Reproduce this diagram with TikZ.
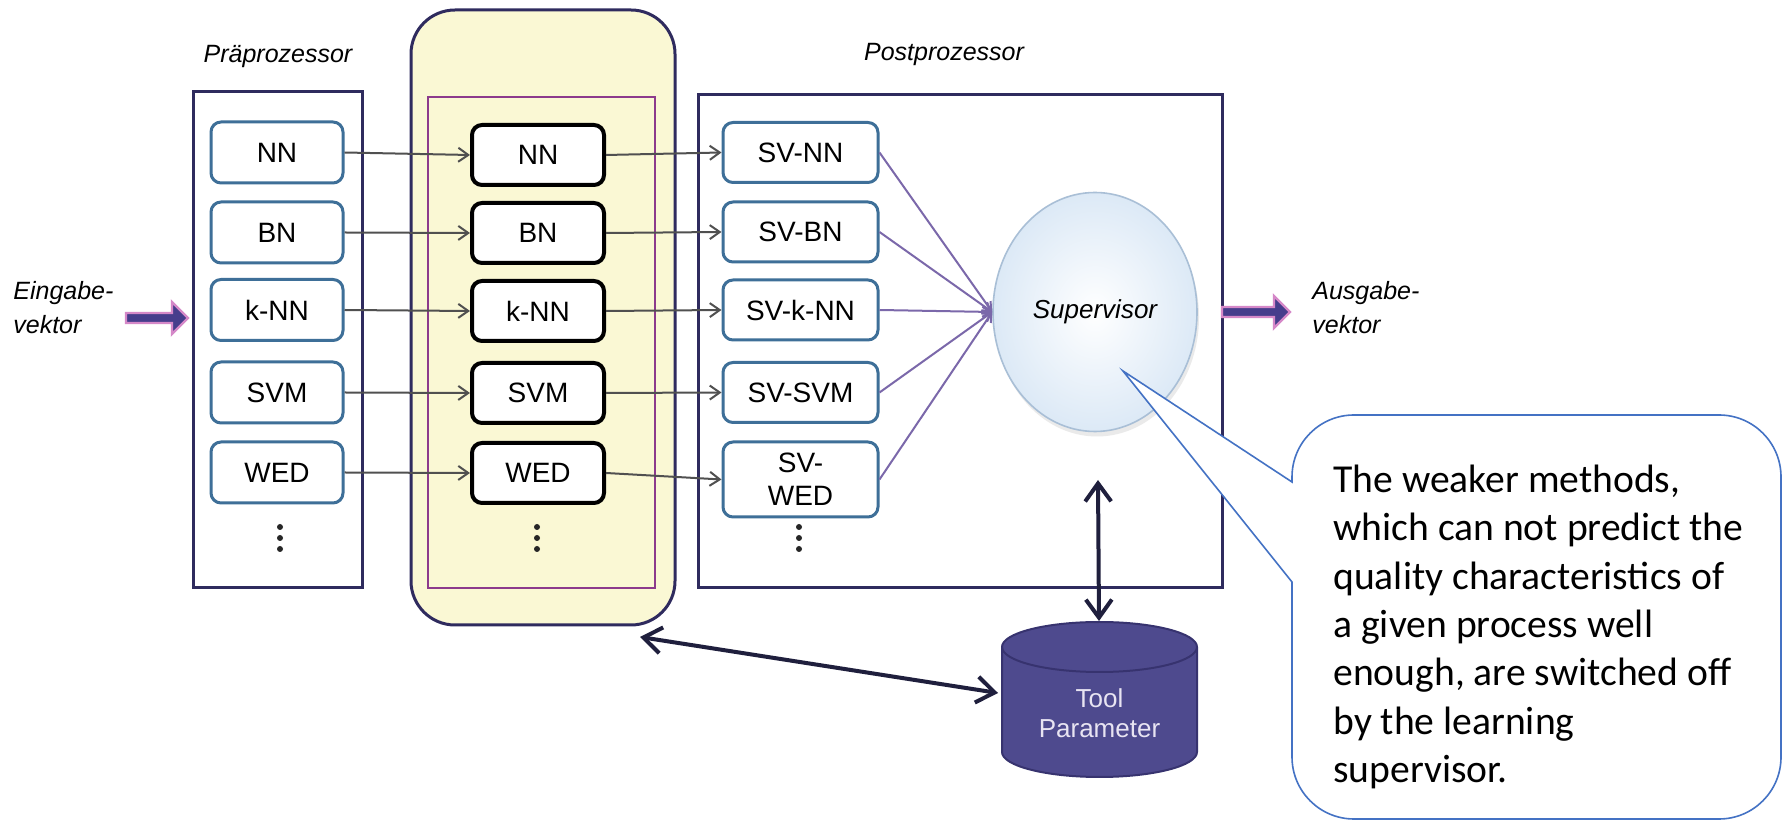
\documentclass[tikz,border=0pt]{standalone}
\usepackage{fontspec}
\setmainfont{Liberation Sans}
\newfontfamily\calloutfont{Carlito}
\usetikzlibrary{arrows.meta,shapes.geometric,shadows}

\definecolor{navy}{HTML}{2F2B5E}
\definecolor{steel}{HTML}{3E6F98}
\definecolor{fbyellow}{HTML}{FAF8D4}
\definecolor{fbpurple}{HTML}{8C3B8C}
\definecolor{lav}{HTML}{7B68AA}
\definecolor{arrgray}{HTML}{505050}
\definecolor{cylfill}{HTML}{4E4A8E}
\definecolor{cylline}{HTML}{37336F}
\definecolor{fatcore}{HTML}{463D8C}
\definecolor{fatedge}{HTML}{D588C8}
\definecolor{callblue}{HTML}{4472C4}
\definecolor{supedge}{HTML}{A9BFD6}
\definecolor{supout}{HTML}{DCE9F6}
\definecolor{dbtext}{HTML}{E8E4F2}
\definecolor{dblarrow}{HTML}{1F1F3D}

\begin{document}
\begin{tikzpicture}[x=0.5pt,y=-0.5pt,
  boxtext/.style={font=\fontsize{14}{16.5}\selectfont, align=center, inner sep=0pt},
  prebox/.style={boxtext, draw=steel, line width=1.5pt, rounded corners=5pt, fill=white, minimum width=66pt, minimum height=30.5pt},
  midbox/.style={boxtext, draw=black, line width=2pt, rounded corners=5pt, fill=white, minimum width=66pt, minimum height=30pt},
  svbox/.style={boxtext, draw=steel, line width=1.5pt, rounded corners=5pt, fill=white, minimum width=77.5pt, minimum height=30pt},
  frame/.style={draw=navy, line width=1.5pt, inner sep=0pt},
  ilabel/.style={font=\fontsize{12.5}{17}\selectfont\itshape, align=left, inner sep=0pt},
  flow/.style={draw=arrgray, line width=1pt, -{Straight Barb[length=5pt,width=7pt]}},
  svline/.style={draw=lav, line width=1pt, -{Straight Barb[length=4pt,width=5pt]}},
  dbl/.style={draw=dblarrow, line width=2pt, {Straight Barb[length=9pt,width=13pt]}-{Straight Barb[length=9pt,width=13pt]}},
  fat/.style={draw=fatedge, fill=fatcore, line width=1.2pt, line join=miter},
  dotmark/.style={fill=black!85},
]
\useasboundingbox[fill=white] (0,0) rectangle (1784,822);

% labels
\node[ilabel] (prelbl) at (278,57) {Präprozessor};
\node[ilabel, anchor=west] (fblbl) at (474,52) {trainierbare\\Functionbox};
\node[ilabel] (postlbl) at (944,55) {Postprozessor};
\node[ilabel, anchor=west] (inlbl) at (13,308) {Eingabe-\\vektor};
\node[ilabel, anchor=west] (outlbl) at (1312,308) {Ausgabe-\\vektor};

% frames
\node[frame, fill=fbyellow, rounded corners=22pt, minimum width=132pt, minimum height=307.5pt] (fbox) at (543,317.5) {};
\node[draw=fbpurple, line width=1.2pt, inner sep=0pt, minimum width=113.5pt, minimum height=245.5pt] (fin) at (541.5,342.5) {};
\node[frame, minimum width=84.5pt, minimum height=248pt] (pre) at (277.5,340) {};
\node[frame, minimum width=262pt, minimum height=246.5pt] (post) at (960,341.5) {};

% fat arrows
\draw[fat] (126,313) -- (172,313) -- (172,302) -- (188,318) -- (172,334) -- (172,323) -- (126,323) -- cycle;
\draw[fat] (1222,307) -- (1274,307) -- (1274,296) -- (1290,312) -- (1274,328) -- (1274,317) -- (1222,317) -- cycle;

% preprocessor boxes
\node[prebox] (p1) at (277,152.5) {NN};
\node[prebox] (p2) at (277,232.5) {BN};
\node[prebox] (p3) at (277,310) {k-NN};
\node[prebox] (p4) at (277,392.5) {SVM};
\node[prebox] (p5) at (277,472.5) {WED};

% function boxes
\node[midbox] (f1) at (538,155) {NN};
\node[midbox] (f2) at (538,233) {BN};
\node[midbox] (f3) at (538,311) {k-NN};
\node[midbox] (f4) at (538,393) {SVM};
\node[midbox] (f5) at (538,473) {WED};

% supervisor boxes
\node[svbox] (s1) at (800.5,152.5) {SV-NN};
\node[svbox] (s2) at (800.5,232) {SV-BN};
\node[svbox] (s3) at (800.5,310) {SV-k-NN};
\node[svbox] (s4) at (800.5,392.5) {SV-SVM};
\node[svbox, minimum height=37.5pt] (s5) at (800.5,479.5) {SV-\\WED};

% continuation dots
\foreach \x in {280,537,799} {
  \foreach \y in {527,538,549} {
    \fill[dotmark] (\x,\y) circle (1.5pt);
  }
}

% supervisor
\node[ellipse, draw=supedge, line width=0.8pt, inner color=white, outer color=supout,
      minimum width=102pt, minimum height=119.5pt,
      drop shadow={opacity=0.2, shadow xshift=1pt, shadow yshift=-2.5pt, fill=black!40},
      font=\fontsize{13}{15}\selectfont\itshape] (sup) at (1095,312) {Supervisor};

% flows
\foreach \i in {1,...,5} {
  \draw[flow] (p\i.east) -- (f\i.west);
  \draw[flow] (f\i.east) -- (s\i.west);
  \draw[svline] (s\i.east) -- (sup.west);
}

% database cylinder
\fill[cylfill] (1002,647) -- (1002,752) arc[start angle=180, end angle=360, x radius=48.75pt, y radius=12.5pt]
  -- (1197,647) arc[start angle=0, end angle=180, x radius=48.75pt, y radius=12.5pt] -- cycle;
\draw[cylline, line width=1pt] (1002,647) -- (1002,752) arc[start angle=180, end angle=360, x radius=48.75pt, y radius=12.5pt]
  -- (1197,647) arc[start angle=0, end angle=180, x radius=48.75pt, y radius=12.5pt];
\draw[cylline, line width=1pt] (1002,647) arc[start angle=180, end angle=360, x radius=48.75pt, y radius=12.5pt];
\node[font=\fontsize{13}{15}\selectfont, text=dbtext, align=center, inner sep=0pt] (db) at (1099.5,713) {Tool\\Parameter};

% double arrows
\coordinate (fbA) at (640,637);
\coordinate (dbW) at (998,693);
\coordinate (supS) at (1098,480);
\coordinate (dbN) at (1099,621);
\draw[dbl] (fbA) -- (dbW);
\draw[dbl] (supS) -- (dbN);

% callout
\filldraw[fill=white, draw=callblue, line width=0.8pt]
  (1292,582) -- (1292,757) arc[start angle=180, end angle=270, radius=31pt]
  -- (1719,819) arc[start angle=270, end angle=360, radius=31pt]
  -- (1781,477) arc[start angle=0, end angle=90, radius=31pt]
  -- (1354,415) arc[start angle=90, end angle=180, radius=31pt]
  -- (1292,482) -- (1123,371) -- cycle;
\node[anchor=west, align=left, inner sep=0pt, font=\calloutfont\fontsize{19.8}{24.15}\selectfont] (note) at (1333,627)
  {The weaker methods,\\which can not predict the\\quality characteristics of\\a given process well\\enough, are switched off\\by the learning\\supervisor.};
\end{tikzpicture}
\end{document}
